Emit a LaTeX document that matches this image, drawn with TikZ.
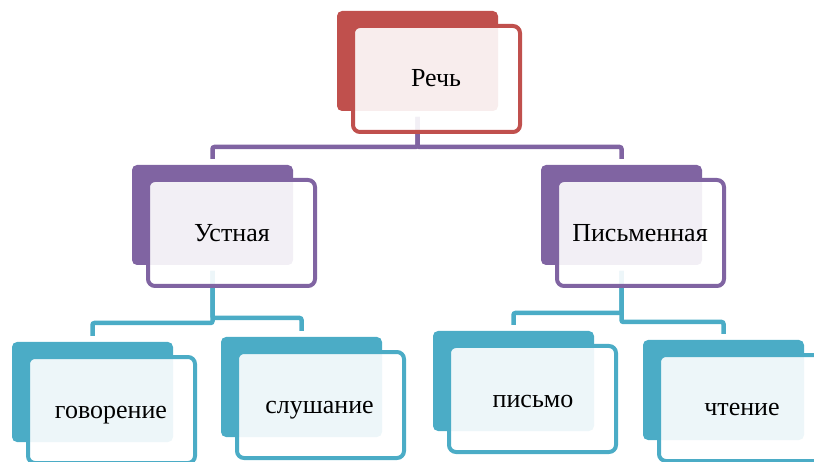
\documentclass[tikz,border=0pt]{standalone}
\usepackage{fontspec}
\setmainfont{Liberation Serif}
\usetikzlibrary{calc}
\pgfdeclarelayer{bg}
\pgfsetlayers{bg,main}
\definecolor{cred}{HTML}{C0504D}
\definecolor{cpur}{HTML}{8064A2}
\definecolor{cteal}{HTML}{4BACC6}
\tikzset{
  backbox/.style={fill=#1, draw=none, rounded corners=5pt, anchor=north west,
    minimum width=161pt, minimum height=100pt, outer sep=0pt, inner sep=0pt},
  frontbox/.style={draw=#1, line width=4pt, fill=white, fill opacity=0.9, draw opacity=1,
    rounded corners=7pt, anchor=north west, minimum width=167pt, minimum height=106pt,
    outer sep=0pt, inner sep=0pt},
  lbl/.style={anchor=base, inner sep=0pt, font=\fontsize{26}{30}\selectfont, text=black},
  conn/.style={draw=#1, line width=4.5pt, rounded corners=2pt}
}
\begin{document}
\begin{tikzpicture}[x=1pt,y=-1pt]
\useasboundingbox (0,0) rectangle (814,462);
\clip (0,0) rectangle (814,462);
% back boxes and front frames
\node[backbox=cred]  (A) at (337,11) {};
\node[frontbox=cred] (Af) at (353,26) {};
\node[backbox=cpur]  (B) at (132,165) {};
\node[frontbox=cpur] (Bf) at (148,180) {};
\node[backbox=cpur]  (C) at (541,165) {};
\node[frontbox=cpur] (Cf) at (557,180) {};
\node[backbox=cteal]  (D) at (12,342) {};
\node[frontbox=cteal] (Df) at (28,357) {};
\node[backbox=cteal]  (E) at (221,337) {};
\node[frontbox=cteal] (Ef) at (237,352) {};
\node[backbox=cteal]  (F) at (433,331) {};
\node[frontbox=cteal] (Ff) at (449,346) {};
\node[backbox=cteal]  (G) at (643,340) {};
\node[frontbox=cteal] (Gf) at (659,355) {};
% labels
\node[lbl] (tA) at (436,87) {Речь};
\node[lbl] (tB) at (232,242) {Устная};
\node[lbl] (tC) at (640,242) {Письменная};
\node[lbl] (tD) at (111,418) {говорение};
\node[lbl] (tE) at (319.5,413) {слушание};
\node[lbl] (tF) at (533,407) {письмо};
\node[lbl] (tG) at (742,415) {чтение};
% connectors
\begin{pgfonlayer}{bg}
\draw[conn=cpur] ($(A.south)+(0,6)$) |- ($(B.north)+(0,-18)$) -- ($(B.north)+(0,-6)$);
\draw[conn=cpur] ($(A.south)+(0,6)$) |- ($(C.north)+(0,-18)$) -- ($(C.north)+(0,-6)$);
\draw[conn=cteal] ($(B.south)+(0,6)$) |- ($(D.north)+(0,-19)$) -- ($(D.north)+(0,-6)$);
\draw[conn=cteal] ($(B.south)+(0,6)$) |- ($(E.north)+(0,-19)$) -- ($(E.north)+(0,-6)$);
\draw[conn=cteal] ($(C.south)+(0,6)$) |- ($(F.north)+(0,-18)$) -- ($(F.north)+(0,-6)$);
\draw[conn=cteal] ($(C.south)+(0,6)$) |- ($(G.north)+(0,-18)$) -- ($(G.north)+(0,-6)$);
\end{pgfonlayer}
\end{tikzpicture}
\end{document}
